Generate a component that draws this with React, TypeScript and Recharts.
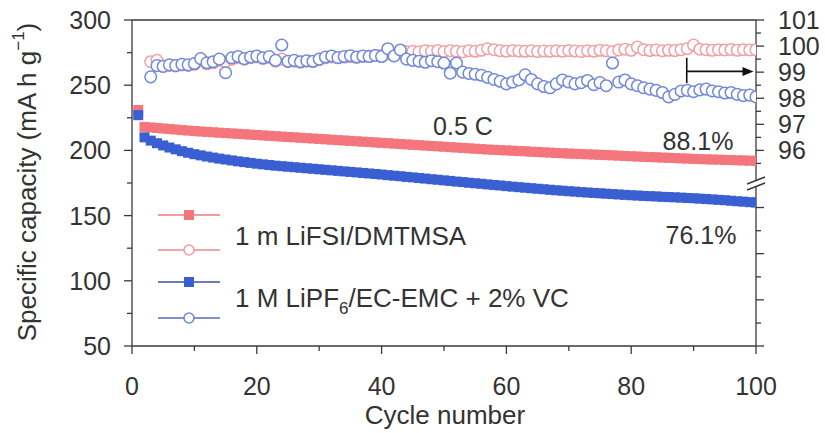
import React from 'react';
import { ComposedChart, Scatter, XAxis, YAxis, ReferenceLine } from 'recharts';

const FONT = '"Liberation Sans", Arial, Helvetica, sans-serif';
const TXT = '#333333';
const AX = '#3a3a3a';

const RED = '#f4767c';
const BLUE = '#3a5fd2';
const RED_OPEN = '#f0a0a6';
const BLUE_OPEN = '#7189d8';

// Specific capacity (mA h g-1), cycles 1..100
const redCapacity = [
  231, 218, 217.6, 217.2, 216.8, 216.4, 216.0, 215.6, 215.2, 214.8,
  214.5, 214.2, 213.9, 213.6, 213.3, 213.0, 212.7, 212.4, 212.1, 211.8,
  211.5, 211.2, 210.9, 210.6, 210.3, 210.0, 209.7, 209.4, 209.1, 208.8,
  208.5, 208.2, 207.9, 207.6, 207.3, 207.0, 206.7, 206.4, 206.1, 205.8,
  205.5, 205.2, 204.9, 204.6, 204.3, 204.0, 203.7, 203.4, 203.1, 202.8,
  202.5, 202.2, 201.9, 201.6, 201.3, 201.0, 200.7, 200.4, 200.2, 200.0,
  199.8, 199.5, 199.3, 199.0, 198.8, 198.5, 198.3, 198.0, 197.8, 197.6,
  197.4, 197.2, 197.0, 196.8, 196.6, 196.4, 196.2, 196.0, 195.7, 195.5,
  195.3, 195.1, 194.9, 194.7, 194.5, 194.3, 194.1, 193.9, 193.7, 193.5,
  193.3, 193.2, 193.0, 192.9, 192.7, 192.6, 192.4, 192.3, 192.1, 192.0,
];

const blueCapacity = [
  227, 210, 207.5, 205.5, 203.8, 202.2, 200.8, 199.4, 198.2, 197.1,
  196.2, 195.3, 194.5, 193.7, 193.0, 192.3, 191.6, 191.0, 190.4, 189.8,
  189.3, 188.8, 188.3, 187.9, 187.5, 187.1, 186.7, 186.3, 185.9, 185.5,
  185.1, 184.7, 184.3, 183.9, 183.5, 183.1, 182.7, 182.3, 181.9, 181.5,
  181.0, 180.6, 180.2, 179.7, 179.3, 178.8, 178.4, 177.9, 177.5, 177.0,
  176.6, 176.1, 175.7, 175.2, 174.8, 174.4, 173.9, 173.5, 173.1, 172.6,
  172.2, 171.8, 171.4, 171.0, 170.6, 170.2, 169.8, 169.4, 169.1, 168.7,
  168.4, 168.0, 167.7, 167.4, 167.1, 166.8, 166.5, 166.2, 165.9, 165.6,
  165.4, 165.1, 164.9, 164.7, 164.4, 164.2, 164.0, 163.8, 163.5, 163.3,
  163.0, 162.7, 162.4, 162.1, 161.8, 161.4, 161.0, 160.7, 160.3, 160.0,
];

// Coulombic efficiency (%), cycles 3..100
const efficiencyStartCycle = 3;

const redEfficiency = [
  99.40, 99.45, 99.22, 99.26, 99.24, 99.28, 99.26, 99.30, 99.45, 99.32,
  99.36, 99.45, 99.40, 99.50, 99.55, 99.50, 99.55, 99.58, 99.52, 99.56,
  99.42, 99.50, 99.40, 99.42, 99.38, 99.42, 99.40, 99.48, 99.55, 99.58,
  99.55, 99.58, 99.60, 99.57, 99.60, 99.62, 99.64, 99.65, 99.70, 99.68,
  99.75, 99.78, 99.80, 99.78, 99.82, 99.80, 99.83, 99.79, 99.82, 99.80,
  99.78, 99.82, 99.80, 99.84, 99.90, 99.86, 99.82, 99.80, 99.83, 99.81,
  99.80, 99.82, 99.79, 99.81, 99.80, 99.82, 99.80, 99.83, 99.81, 99.79,
  99.82, 99.80, 99.84, 99.82, 99.78, 99.85, 99.88, 99.84, 99.96, 99.86,
  99.83, 99.85, 99.82, 99.84, 99.83, 99.86, 99.90, 100.04, 99.88, 99.86,
  99.84, 99.86, 99.85, 99.87, 99.84, 99.86, 99.85, 99.86,
];

const blueEfficiency = [
  98.82, 99.25, 99.22, 99.28, 99.25, 99.30, 99.28, 99.33, 99.52, 99.36,
  99.40, 99.50, 98.98, 99.55, 99.60, 99.52, 99.58, 99.62, 99.55, 99.60,
  99.45, 100.04, 99.42, 99.45, 99.40, 99.44, 99.42, 99.50, 99.58, 99.62,
  99.56, 99.60, 99.63, 99.58, 99.62, 99.60, 99.64, 99.60, 99.90, 99.62,
  99.85, 99.50, 99.45, 99.42, 99.38, 99.44, 99.40, 99.35, 98.96, 99.35,
  99.00, 98.95, 98.92, 98.88, 98.80, 98.72, 98.65, 98.55, 98.62, 98.70,
  98.90, 98.72, 98.55, 98.45, 98.40, 98.55, 98.70, 98.62, 98.55, 98.60,
  98.68, 98.52, 98.60, 98.48, 99.35, 98.62, 98.70, 98.55, 98.48, 98.40,
  98.35, 98.30, 98.22, 98.05, 98.15, 98.28, 98.30, 98.25, 98.32, 98.35,
  98.28, 98.25, 98.20, 98.22, 98.15, 98.10, 98.12, 98.05,
];

const xTicks = [0, 10, 20, 30, 40, 50, 60, 70, 80, 90, 100];
const xMajorStep = 20;
const leftTicks = [50, 75, 100, 125, 150, 175, 200, 225, 250, 275, 300];
const leftMajorStep = 50;
const rightUpperTicks = [101, 100.5, 100, 99.5, 99, 98.5, 98, 97.5, 97, 96.5, 96, 95.5];
const rightBreak = 94.75;
const rightLowerTicks = [93.81, 92.92, 92.04, 91.15, 90.27, 89.38, 88.5];
const rightTicks = [...rightUpperTicks, rightBreak, ...rightLowerTicks];

const arrowStem = [{ x: 88.9, y: 99.55 }, { x: 88.9, y: 98.58 }];
const arrowShaft = [{ x: 88.9, y: 99.03 }, { x: 99.6, y: 99.03 }];

const toPoints = (vals: number[], start: number) => vals.map((v, i) => ({ cycle: start + i, v }));

const redCapPts = toPoints(redCapacity, 1);
const blueCapPts = toPoints(blueCapacity, 1);
const redCePts = toPoints(redEfficiency, efficiencyStartCycle);
const blueCePts = toPoints(blueEfficiency, efficiencyStartCycle);

const squareShape = (color: string) => (p: any) => (
  <rect x={p.cx - 5} y={p.cy - 5} width={10} height={10} fill={color} />
);
const circleShape = (color: string) => (p: any) => (
  <circle cx={p.cx} cy={p.cy} r={5.8} fill="#ffffff" stroke={color} strokeWidth={1.5} />
);

const TICK_FS = 25;

const XTick = (props: any) => {
  const { x, y, payload } = props;
  const major = payload.value % xMajorStep === 0;
  return (
    <g>
      <line x1={x} x2={x} y1={y} y2={y + (major ? 8 : 5)} stroke={AX} strokeWidth={1.3} />
      {major && (
        <text x={x} y={y + 49} textAnchor="middle" fontSize={TICK_FS} fill={TXT} fontFamily={FONT}>
          {payload.value}
        </text>
      )}
    </g>
  );
};

const LeftTick = (props: any) => {
  const { x, y, payload } = props;
  const major = payload.value % leftMajorStep === 0;
  return (
    <g>
      <line x1={x} x2={x - (major ? 8 : 5)} y1={y} y2={y} stroke={AX} strokeWidth={1.3} />
      {major && (
        <text x={x - 21} y={y} dy="0.36em" textAnchor="end" fontSize={TICK_FS} fill={TXT} fontFamily={FONT}>
          {payload.value}
        </text>
      )}
    </g>
  );
};

const RightTick = (props: any) => {
  const { x, y, payload } = props;
  const v = payload.value;
  if (v === rightBreak) {
    return (
      <g>
        <polygon points={`${x - 9},${y + 1} ${x + 9},${y - 6} ${x + 9},${y} ${x - 9},${y + 7}`} fill="#ffffff" />
        <line x1={x - 9} y1={y + 1} x2={x + 9} y2={y - 6} stroke={AX} strokeWidth={1.5} />
        <line x1={x - 9} y1={y + 7} x2={x + 9} y2={y} stroke={AX} strokeWidth={1.5} />
      </g>
    );
  }
  const upper = v > rightBreak;
  const lowerIdx = rightLowerTicks.indexOf(v);
  const major = upper ? Number.isInteger(v) : lowerIdx % 2 === 0;
  return (
    <g>
      <line x1={x} x2={x + (major ? 8 : 5)} y1={y} y2={y} stroke={AX} strokeWidth={1.3} />
      {upper && major && (
        <text x={x + 22} y={y} dy="0.36em" textAnchor="start" fontSize={TICK_FS} fill={TXT} fontFamily={FONT}>
          {v}
        </text>
      )}
    </g>
  );
};

const ArrowShape = (p: any) => {
  const { x1, y1, x2, y2 } = p;
  return (
    <g>
      <line x1={x1} y1={y1} x2={x2 - 8} y2={y2} stroke="#111" strokeWidth={1.6} />
      <polygon points={`${x2},${y2} ${x2 - 11},${y2 - 4.5} ${x2 - 11},${y2 + 4.5}`} fill="#111" />
    </g>
  );
};

const legendRows = [
  { y: 215, color: RED, line: '#f29a9e', kind: 'square' },
  { y: 250, color: RED_OPEN, line: '#f0a6aa', kind: 'circle' },
  { y: 282, color: BLUE, line: '#6a7cbc', kind: 'square' },
  { y: 318, color: BLUE_OPEN, line: '#8090cc', kind: 'circle' },
];

export default function App() {
  return (
    <div style={{ position: 'absolute', left: 0, top: 0, width: 825, height: 433, background: '#fff' }}>
      <ComposedChart width={825} height={433} margin={{ top: 20, right: 0, bottom: 0, left: 0 }}>
        <XAxis
          xAxisId="x"
          type="number"
          dataKey="cycle"
          domain={[0, 100]}
          ticks={xTicks}
          interval={0}
          height={87}
          tickSize={0}
          tickMargin={0}
          tickLine={false}
          tick={<XTick />}
          axisLine={{ stroke: AX, strokeWidth: 1.3 }}
          allowDataOverflow
        />
        <YAxis
          yAxisId="left"
          orientation="left"
          type="number"
          domain={[50, 300]}
          ticks={leftTicks}
          interval={0}
          width={132}
          tickSize={0}
          tickMargin={0}
          tickLine={false}
          tick={<LeftTick />}
          axisLine={{ stroke: AX, strokeWidth: 1.3 }}
          allowDataOverflow
        />
        <YAxis
          yAxisId="right"
          orientation="right"
          type="number"
          domain={[88.5, 101]}
          ticks={rightTicks}
          interval={0}
          width={69}
          tickSize={0}
          tickMargin={0}
          tickLine={false}
          tick={<RightTick />}
          axisLine={{ stroke: AX, strokeWidth: 1.3 }}
          allowDataOverflow
        />
        <ReferenceLine xAxisId="x" yAxisId="left" y={300} stroke={AX} strokeWidth={1.3} />
        <Scatter xAxisId="x" yAxisId="left" data={redCapPts} dataKey="v" shape={squareShape(RED)} isAnimationActive={false} />
        <Scatter xAxisId="x" yAxisId="left" data={blueCapPts} dataKey="v" shape={squareShape(BLUE)} isAnimationActive={false} />
        <Scatter xAxisId="x" yAxisId="right" data={redCePts} dataKey="v" shape={circleShape(RED_OPEN)} isAnimationActive={false} />
        <Scatter xAxisId="x" yAxisId="right" data={blueCePts} dataKey="v" shape={circleShape(BLUE_OPEN)} isAnimationActive={false} />
        <ReferenceLine xAxisId="x" yAxisId="right" segment={arrowStem} stroke="#111" strokeWidth={1.6} />
        <ReferenceLine xAxisId="x" yAxisId="right" segment={arrowShaft} shape={ArrowShape} />
      </ComposedChart>
      <svg width={825} height={433} style={{ position: 'absolute', left: 0, top: 0, pointerEvents: 'none' }} fontFamily={FONT}>
        <text transform="translate(27,182) rotate(-90)" textAnchor="middle" dominantBaseline="central" fontSize={26} fill={TXT}>
          Specific capacity (mA h g<tspan dy={-9} fontSize={17}>−1</tspan><tspan dy={9}>)</tspan>
        </text>
        <text x={445} y={424} textAnchor="middle" fontSize={26} fill={TXT}>Cycle number</text>
        <text x={463} y={135} textAnchor="middle" fontSize={25} fill={TXT}>0.5 C</text>
        <text x={698} y={150} textAnchor="middle" fontSize={25} fill={TXT}>88.1%</text>
        <text x={701} y={244} textAnchor="middle" fontSize={25} fill={TXT}>76.1%</text>
        {legendRows.map((r, i) => (
          <g key={i}>
            <line x1={158} x2={220} y1={r.y} y2={r.y} stroke={r.line} strokeWidth={2} />
            {r.kind === 'square' ? (
              <rect x={184} y={r.y - 5} width={10} height={10} fill={r.color} />
            ) : (
              <circle cx={189} cy={r.y} r={5} fill="#fff" stroke={r.color} strokeWidth={1.6} />
            )}
          </g>
        ))}
        <text x={235} y={245} fontSize={26} fill={TXT}>1 m LiFSI/DMTMSA</text>
        <text x={235} y={307} fontSize={26} fill={TXT}>
          1 M LiPF<tspan dy={7} fontSize={17}>6</tspan><tspan dy={-7}>/EC-EMC + 2% VC</tspan>
        </text>
      </svg>
    </div>
  );
}
